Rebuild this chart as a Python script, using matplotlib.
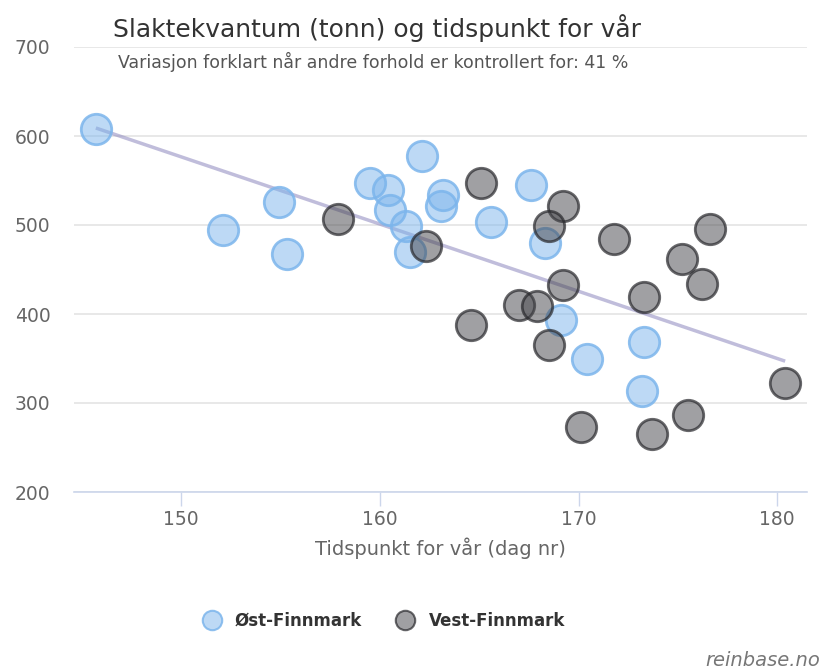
import numpy as np
import matplotlib
matplotlib.use("Agg")
import matplotlib.pyplot as plt
from matplotlib.lines import Line2D

# Øst-Finnmark (day of spring, slaughter tonnes)
ost_x = [145.7, 152.1, 154.9, 155.3, 159.5, 160.4, 160.5, 161.3, 161.5, 162.1,
         163.2, 163.1, 165.6, 167.6, 168.3, 169.1, 170.4, 173.3, 173.2]
ost_y = [608, 494, 526, 467, 547, 539, 517, 499, 470, 578,
         534, 521, 503, 545, 480, 393, 349, 368, 313]

# Vest-Finnmark
vest_x = [157.9, 162.3, 165.1, 169.2, 168.5, 171.8, 176.6, 175.2, 176.2, 169.2,
          173.3, 167.0, 167.9, 164.6, 168.5, 180.4, 175.5, 170.1, 173.7]
vest_y = [507, 476, 547, 521, 499, 484, 496, 462, 434, 433,
          419, 410, 409, 388, 365, 322, 286, 273, 265]

trend_x = [145.7, 180.4]
trend_y = [609, 347]

title = "Slaktekvantum (tonn) og tidspunkt for vår"
subtitle = "Variasjon forklart når andre forhold er kontrollert for: 41 %"
xlabel = "Tidspunkt for vår (dag nr)"
series_names = ["Øst-Finnmark", "Vest-Finnmark"]

plt.rcParams['font.family'] = ['DejaVu Sans']

W, H = 824, 668
fig = plt.figure(figsize=(W / 100, H / 100), dpi=100)
ax = fig.add_axes([74 / W, 1 - 492 / H, (807 - 74) / W, (492 - 47) / H])

blue_face = (124 / 255, 181 / 255, 236 / 255, 0.5)
blue_edge = (124 / 255, 181 / 255, 236 / 255, 0.85)
grey_face = (67 / 255, 67 / 255, 72 / 255, 0.5)
grey_edge = (40 / 255, 40 / 255, 44 / 255, 0.7)

ax.plot(trend_x, trend_y, color=(150 / 255, 145 / 255, 195 / 255, 0.6), lw=2.5,
        zorder=2, solid_capstyle='butt')
ax.scatter(ost_x, ost_y, s=480, facecolor=blue_face, edgecolor=blue_edge,
           linewidth=2, zorder=3)
ax.scatter(vest_x, vest_y, s=480, facecolor=grey_face, edgecolor=grey_edge,
           linewidth=2, zorder=4)

ax.set_xlim(144.6, 181.5)
ax.set_ylim(200, 700)
ax.set_yticks([200, 300, 400, 500, 600, 700])
ax.set_xticks([150, 160, 170, 180])

for s in ['top', 'right', 'left']:
    ax.spines[s].set_visible(False)
ax.spines['bottom'].set_color('#ccd6eb')
ax.spines['bottom'].set_linewidth(1.2)
ax.yaxis.grid(True, color='#e6e6e6', lw=1.3)
ax.set_axisbelow(True)
ax.tick_params(axis='y', length=0, pad=17, labelsize=13.5, labelcolor='#666666')
ax.tick_params(axis='x', length=10, width=1, color='#ccd6eb', pad=3,
               labelsize=13.5, labelcolor='#666666')
ax.set_xlabel(xlabel, fontsize=14, color='#666666', labelpad=6)

fig.text(113 / W, 1 - 28 / H, title, fontsize=18, color='#333333',
         ha='left', va='center')
fig.text(118 / W, 1 - 62 / H, subtitle, fontsize=12.5, color='#555555',
         ha='left', va='center')

handles = [
    Line2D([], [], marker='o', ls='', ms=14, markerfacecolor=blue_face,
           markeredgecolor=blue_edge, markeredgewidth=1.5),
    Line2D([], [], marker='o', ls='', ms=14, markerfacecolor=grey_face,
           markeredgecolor=grey_edge, markeredgewidth=1.5),
]
leg = fig.legend(handles, series_names, loc='center', ncol=2,
                 bbox_to_anchor=(380 / W, 1 - 621 / H), frameon=False,
                 prop={'weight': 'bold', 'size': 12}, handletextpad=0.4,
                 columnspacing=1.6)
for t in leg.get_texts():
    t.set_color('#333333')

fig.text(820 / W, 1 - 660 / H, "reinbase.no", fontsize=14, style='italic',
         color='#777777', ha='right', va='center')

fig.savefig("out.png", dpi=100)
